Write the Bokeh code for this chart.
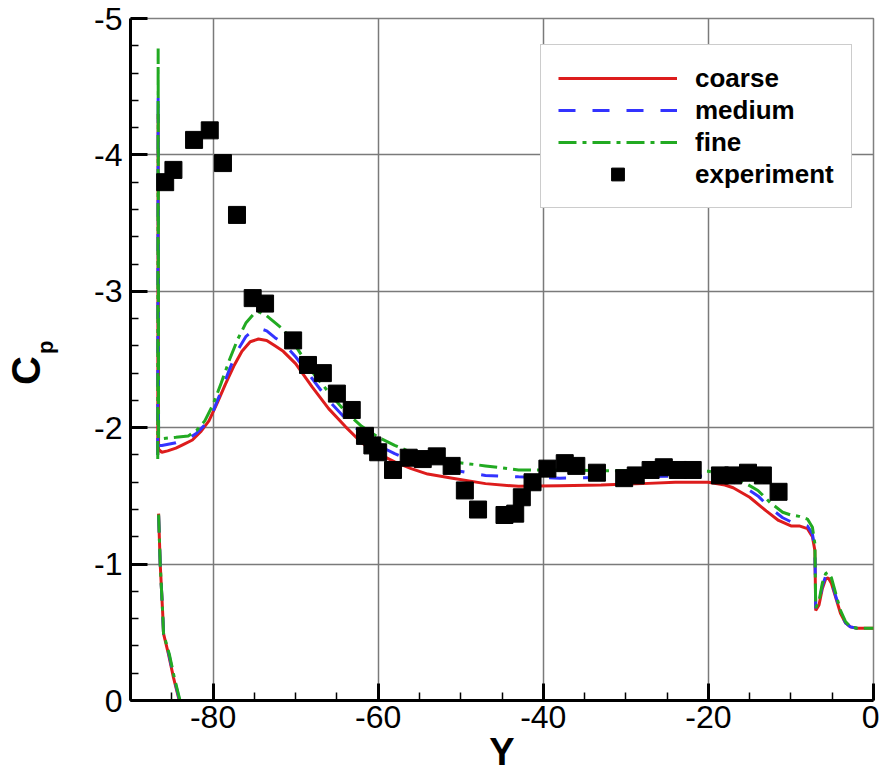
import numpy as np
from bokeh.plotting import figure
from bokeh.models import Range1d, FixedTicker, Legend, LegendItem, Title, LinearAxis
from bokeh.embed import file_html
from bokeh.resources import INLINE

nan = float("nan")

# ---- data (Y position, Cp) ----
coarse_y = [-84.1, -84.8, -85.4, -86.0, -86.1, -86.4, -86.6, nan,
            -86.7, -86.65, -86.6, -86.2, -85.5, -84.5, -83.5, -82.5, -81.5, -80.5, -79.5, -78.5,
            -77.5, -76.5, -75.5, -74.5, -73.5, -72.5, -71.5, -70, -68, -66, -64, -62, -60,
            -58, -56, -54, -51, -47, -43, -38, -33, -28, -24, -20, -18, -17, -15, -13, -11.5,
            -10, -9, -8, -7.4, -7.1, -7.0, -6.6, -6.2, -5.8, -5.5, -5.1, -4.6, -4.0, -3.4,
            -2.8, -2.0, 0.0]
coarse_cp = [0.0, -0.17, -0.34, -0.49, -0.64, -1.0, -1.37, nan,
             -1.80, -4.30, -1.84, -1.82, -1.83, -1.85, -1.88, -1.91, -1.97, -2.05, -2.18, -2.32,
             -2.45, -2.56, -2.63, -2.65, -2.64, -2.60, -2.56, -2.47, -2.30, -2.14, -2.01, -1.89, -1.81,
             -1.75, -1.70, -1.66, -1.63, -1.59, -1.57, -1.575, -1.58, -1.59, -1.60, -1.60, -1.58, -1.56, -1.49, -1.39, -1.32,
             -1.28, -1.28, -1.26, -1.20, -1.10, -0.66, -0.70, -0.82, -0.89, -0.90, -0.86, -0.76, -0.64, -0.57,
             -0.54, -0.53, -0.53]

medium_y = [-84.05, -84.75, -85.35, -86.0, -86.1, -86.4, -86.6, nan,
            -86.7, -86.65, -86.6, -86.2, -84.5, -83, -82, -81, -80, -79, -78, -77, -76, -75,
            -74.5, -73.5, -72.5, -71.5, -70, -68, -66, -64, -62, -60, -58, -56, -54, -51, -47,
            -43, -38, -33, -28, -24, -20, -18, -16, -14, -12.5, -11, -10, -9, -8, -7.4, -7.1,
            -7.0, -6.6, -6.2, -5.8, -5.5, -5.1, -4.6, -4.0, -3.4, -2.8, -2.0, 0.0]
medium_cp = [0.0, -0.17, -0.34, -0.49, -0.64, -1.0, -1.37, nan,
             -1.80, -4.45, -1.87, -1.87, -1.89, -1.92, -1.96, -2.02, -2.12, -2.27, -2.43, -2.57, -2.67, -2.72,
             -2.73, -2.71, -2.66, -2.62, -2.52, -2.36, -2.20, -2.07, -1.96, -1.87, -1.81, -1.76, -1.73, -1.69, -1.65,
             -1.64, -1.63, -1.635, -1.64, -1.645, -1.645, -1.62, -1.58, -1.50, -1.41, -1.34, -1.31, -1.30, -1.28, -1.22, -1.12,
             -0.67, -0.72, -0.84, -0.91, -0.92, -0.88, -0.77, -0.65, -0.57, -0.54, -0.53, -0.53]

fine_y = [-84.0, -84.7, -85.3, -86.0, -86.1, -86.4, -86.6, nan,
          -86.7, -86.65, -86.6, -86.2, -84.5, -83, -82, -81, -80, -79, -78, -77, -76, -75,
          -74.5, -73.5, -72.5, -71.5, -70, -68, -66, -64, -62, -60, -58, -56, -54, -51, -47,
          -43, -38, -33, -28, -24, -20, -18, -16, -14, -12.5, -11, -10, -9, -8, -7.4, -7.1,
          -7.0, -6.6, -6.2, -5.8, -5.5, -5.1, -4.6, -4.0, -3.4, -2.8, -2.0, 0.0]
fine_cp = [0.0, -0.17, -0.34, -0.49, -0.64, -1.0, -1.37, nan,
           -1.77, -4.78, -1.92, -1.92, -1.93, -1.94, -1.98, -2.05, -2.17, -2.33, -2.50, -2.65, -2.77, -2.84,
           -2.85, -2.82, -2.77, -2.72, -2.60, -2.41, -2.26, -2.12, -2.01, -1.93, -1.87, -1.82, -1.78, -1.75, -1.72,
           -1.69, -1.69, -1.685, -1.685, -1.685, -1.68, -1.66, -1.61, -1.54, -1.45, -1.38, -1.36, -1.35, -1.33, -1.27, -1.15,
           -0.68, -0.73, -0.86, -0.93, -0.94, -0.90, -0.79, -0.66, -0.58, -0.54, -0.53, -0.53]

exp_y = [-85.8, -84.8, -82.3, -80.4, -78.8, -77.1, -75.2, -73.7, -70.3, -68.5, -66.7, -65.0,
         -63.2, -61.6, -60.7, -60.0, -58.2, -56.3, -54.6, -52.9, -51.1, -49.5, -47.9, -44.7,
         -43.4, -42.6, -41.3, -39.5, -37.4, -36.0, -33.5, -30.2, -28.8, -27.0, -25.4, -23.7,
         -21.9, -18.6, -17.0, -15.2, -13.4, -11.5]
exp_cp = [-3.80, -3.89, -4.11, -4.18, -3.94, -3.56, -2.95, -2.91, -2.64, -2.46, -2.40, -2.25,
          -2.13, -1.94, -1.87, -1.82, -1.69, -1.78, -1.77, -1.79, -1.72, -1.54, -1.40, -1.36,
          -1.37, -1.49, -1.60, -1.70, -1.74, -1.72, -1.67, -1.63, -1.65, -1.69, -1.71, -1.69,
          -1.69, -1.65, -1.65, -1.67, -1.65, -1.53]

x_major = [-80, -60, -40, -20, 0]
x_minor = [-90, -85, -75, -70, -65, -55, -50, -45, -35, -30, -25, -15, -10, -5]
y_major = [-5, -4, -3, -2, -1, 0]
y_minor = [round(-5 + 0.2 * i, 1) for i in range(26) if i % 5 != 0]
x_labels = {v: str(v) for v in x_major}
y_labels = {v: str(v) for v in y_major}

FONT = "Liberation Sans"
NB = "\u00a0"

p = figure(width=879, height=772, x_range=Range1d(-90, 0), y_range=Range1d(0, -5),
           output_backend="svg", toolbar_location=None,
           min_border_left=130, min_border_right=6, min_border_top=18, min_border_bottom=72)
p.background_fill_color = "white"
p.border_fill_color = "white"
p.outline_line_color = "#808080"
p.outline_line_width = 1.5

for ax, maj, mnr, lab in ((p.xaxis[0], x_major, x_minor, x_labels),
                          (p.yaxis[0], y_major, y_minor, y_labels)):
    ax.ticker = FixedTicker(ticks=maj, minor_ticks=mnr)
    ax.major_label_overrides = lab
    ax.axis_line_width = 3
    ax.axis_line_color = "black"
    ax.major_tick_in = 17
    ax.major_tick_out = 0
    ax.major_tick_line_width = 3
    ax.minor_tick_in = 8
    ax.minor_tick_out = 0
    ax.minor_tick_line_width = 1.5
    ax.major_label_text_font = FONT
    ax.major_label_text_font_size = "32px"
    ax.major_label_text_color = "black"
p.xaxis.major_label_standoff = 5
p.yaxis.major_label_standoff = 8

# subscript "p" of the Cp title, as the inner y-axis label
yax = p.yaxis[0]
yax.axis_label = NB * 4 + "p"
yax.axis_label_text_font = FONT
yax.axis_label_text_font_style = "bold"
yax.axis_label_text_font_size = "22px"
yax.axis_label_text_color = "black"
yax.axis_label_standoff = 33

# "C" of the Cp title, on an outer blank axis
cax = LinearAxis(ticker=FixedTicker(ticks=[]), axis_line_color=None,
                 major_tick_in=0, major_tick_out=0, minor_tick_in=0, minor_tick_out=0,
                 major_label_standoff=0,
                 axis_label="C" + NB * 2, axis_label_text_font=FONT,
                 axis_label_text_font_style="bold", axis_label_text_font_size="40px",
                 axis_label_text_color="black", axis_label_standoff=-17)
p.add_layout(cax, "left")

p.xgrid.ticker = FixedTicker(ticks=x_major)
p.ygrid.ticker = FixedTicker(ticks=y_major)
p.grid.grid_line_color = "#7a7a7a"
p.grid.grid_line_width = 1.5

r_c = p.line(coarse_y, coarse_cp, line_color="#dd1c1c", line_width=3)
r_m = p.line(medium_y, medium_cp, line_color="#3333ff", line_width=3, line_dash="17 17")
r_f = p.line(fine_y, fine_cp, line_color="#22aa22", line_width=3, line_dash="18 6 4 6")
r_e = p.scatter(exp_y, exp_cp, marker="square", size=17, fill_color="black", line_color="black")

legend = Legend(items=[LegendItem(label="coarse", renderers=[r_c]),
                       LegendItem(label="medium", renderers=[r_m]),
                       LegendItem(label="fine", renderers=[r_f]),
                       LegendItem(label="experiment", renderers=[r_e])],
                location=(410, 492))
legend.label_text_font = FONT
legend.label_text_font_style = "bold"
legend.label_text_font_size = "26px"
legend.label_text_color = "black"
legend.glyph_width = 119
legend.glyph_height = 32
legend.label_height = 32
legend.label_standoff = 18
legend.spacing = 0
legend.padding = 17
legend.margin = 0
legend.border_line_color = "#999999"
legend.border_line_width = 1.5
legend.background_fill_alpha = 1.0
p.add_layout(legend)

p.add_layout(Title(text="Y", align="center", text_font=FONT, text_font_style="bold",
                   text_font_size="38px", text_color="black", standoff=-4), "below")

open("out.html", "w").write(file_html(p, INLINE))
